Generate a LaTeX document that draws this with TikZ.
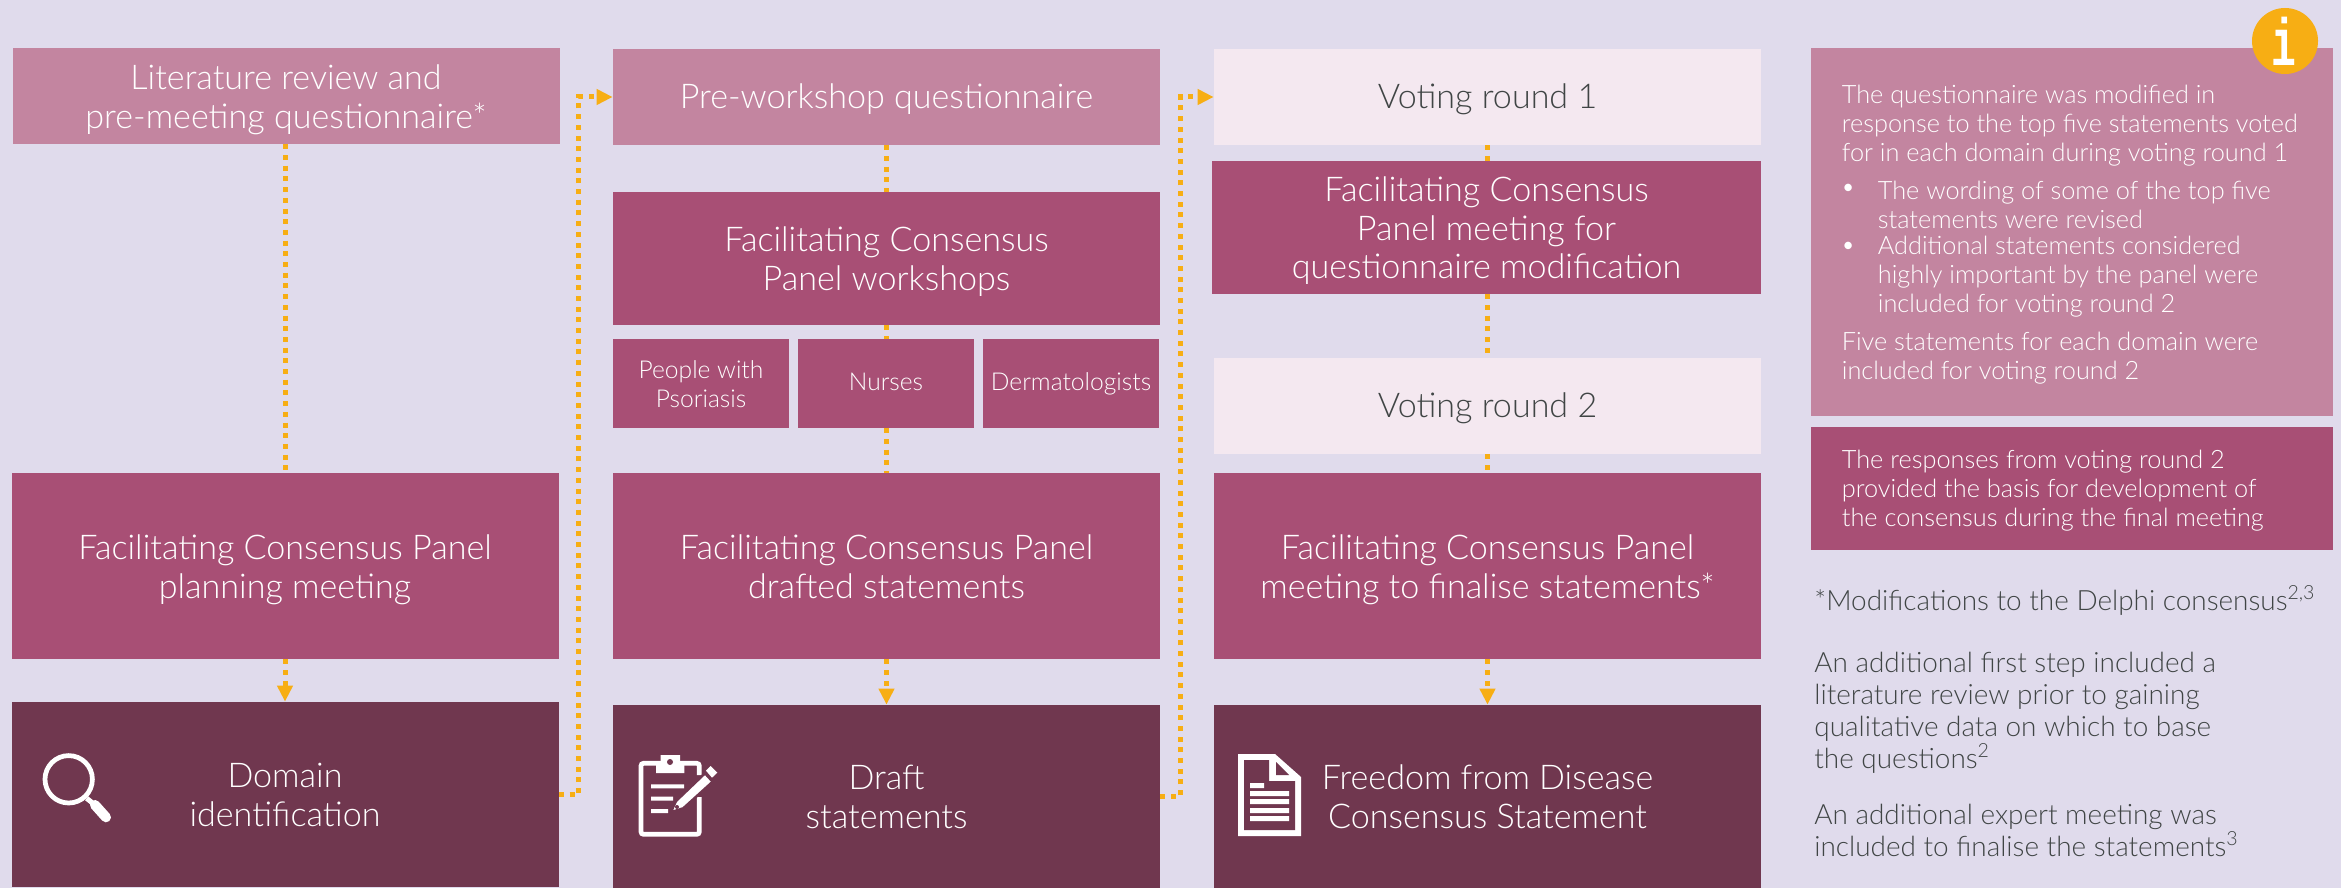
\documentclass[tikz,border=0pt]{standalone}
\usepackage{fontspec}
\setmainfont{Lato}[UprightFont=* Light]
\newfontfamily\infofont{Liberation Mono}[Scale=1]
\usetikzlibrary{arrows.meta}
\definecolor{backlilac}{HTML}{E0DBEC}
\definecolor{lightrose}{HTML}{C385A0}
\definecolor{midrose}{HTML}{A84F75}
\definecolor{darkplum}{HTML}{70374F}
\definecolor{palerose}{HTML}{F4E8F0}
\definecolor{linkorange}{HTML}{F7AE14}
\definecolor{greytext}{HTML}{404545}
\newcommand{\toppad}{\rule{0pt}{1em}}
\tikzset{
	boxsize/.style 2 args={minimum width=#1*0.02cm, minimum height=#2*0.02cm},
	flowbox/.style={rectangle, inner sep=0pt, align=center, text=white, font=\fontsize{19.4}{22}\selectfont,
		execute at end node={\rule[-0.25em]{0pt}{0.25em}}},
	oneline/.style={execute at begin node={\rule{0pt}{0.95em}}, execute at end node={}},
	smallone/.style={oneline, execute at end node={\rule[-0.4em]{0pt}{0.4em}}},
	lightbox/.style={flowbox, fill=lightrose},
	midbox/.style={flowbox, fill=midrose},
	darkbox/.style={flowbox, fill=darkplum},
	palebox/.style={flowbox, fill=palerose, text=greytext},
	smallbox/.style={midbox, font=\fontsize{14}{16.5}\selectfont},
	notetext/.style={inner sep=0pt, anchor=west, align=left, text=white, font=\fontsize{14.4}{16.5}\selectfont},
	sidetext/.style={inner sep=0pt, anchor=west, align=left, text=greytext, font=\fontsize{15.9}{18.2}\selectfont},
	link/.style={draw=linkorange, line width=0.1cm, dash pattern=on 0.1cm off 0.114cm},
}
\begin{document}
\begin{tikzpicture}[x=0.02cm, y=-0.02cm, >={Triangle[length=0.32cm, width=0.3cm]}]
	\useasboundingbox (0,0) rectangle (2341,888);
	\fill[backlilac] (0,0) rectangle (2341,888);
	%left column
	\node[lightbox, boxsize={547}{96}] (lit) at (286,96) {\toppad Literature review and\\pre-meeting questionnaire*};
	\node[midbox, boxsize={547}{186}] (plan) at (285,566) {\toppad Facilitating Consensus Panel\\planning meeting};
	\node[darkbox, boxsize={547}{185}] (domain) at (285,794.5) {\toppad Domain\\identification};
	%middle column
	\node[lightbox, oneline, boxsize={547}{96}] (pre) at (886.5,97) {Pre-workshop questionnaire};
	\node[midbox, boxsize={547}{133}] (workshops) at (886.5,258.5) {\toppad Facilitating Consensus\\Panel workshops};
	\node[smallbox, boxsize={176}{89}] (people) at (701,383.5) {\toppad People with\\Psoriasis};
	\node[smallbox, smallone, boxsize={176}{89}] (nurses) at (886,383.5) {Nurses};
	\node[smallbox, smallone, boxsize={176}{89}] (derm) at (1071,383.5) {Dermatologists};
	\node[midbox, boxsize={547}{186}] (drafted) at (886.5,566) {\toppad Facilitating Consensus Panel\\drafted statements};
	\node[darkbox, boxsize={547}{183}] (draft) at (886.5,796.5) {\toppad Draft\\statements};
	%right column
	\node[palebox, oneline, boxsize={547}{96}] (voteone) at (1487.5,97) {Voting round 1};
	\node[midbox, boxsize={549}{133}] (modify) at (1486.5,227.5) {\toppad Facilitating Consensus\\Panel meeting for\\questionnaire modification};
	\node[palebox, oneline, boxsize={547}{96}] (votetwo) at (1487.5,406) {Voting round 2};
	\node[midbox, boxsize={547}{186}] (final) at (1487.5,566) {\toppad Facilitating Consensus Panel\\meeting to finalise statements*};
	\node[darkbox, boxsize={547}{183}] (freedom) at (1487.5,796.5) {\toppad Freedom from Disease\\Consensus Statement};
	%connectors
	\draw[link] (plan.north |- lit.south) -- (plan.north);
	\draw[link,->] (plan.south) -- (domain.north);
	\draw[link] (pre.south) -- (workshops.north);
	\draw[link] (workshops.south) -- (workshops.south |- nurses.north);
	\draw[link] (workshops.south |- nurses.south) -- (drafted.north);
	\draw[link,->] (drafted.south) -- (draft.north);
	\draw[link] (voteone.south) -- (voteone.south |- modify.north);
	\draw[link] (voteone.south |- modify.south) -- (votetwo.north);
	\draw[link] (votetwo.south) -- (final.north);
	\draw[link,->] (final.south) -- (freedom.north);
	\draw[link,->] (domain.east) -- ++(20,0) |- (pre.west);
	\draw[link,->] (draft.east) -- ++(20,0) |- (voteone.west);
	%side panel
	\node[midbox, boxsize={522}{368}, fill=lightrose] (notea) at (2072,232) {};
	\node[midbox, boxsize={522}{123}] (noteb) at (2072,488.5) {};
	\node[notetext] (notetop) at (1841.5,126) {The questionnaire was modified in\\response to the top five statements voted\\for in each domain during voting round 1};
	\node[notetext] (bulleta) at (1840.5,190) {•};
	\node[notetext] (itema) at (1877.5,204.5) {The wording of some of the top five\\statements were revised};
	\node[notetext] (bulletb) at (1840.5,248) {•};
	\node[notetext] (itemb) at (1877.5,277) {Additional statements considered\\highly important by the panel were\\included for voting round 2};
	\node[notetext] (noteend) at (1841.5,358) {Five statements for each domain were\\included for voting round 2};
	\node[notetext] (noteresp) at (1841.5,491) {The responses from voting round 2\\provided the basis for development of\\the consensus during the final meeting};
	\node[sidetext] (modhead) at (1814,600) {*Modifications to the Delphi consensus\textsuperscript{2,3}};
	\node[sidetext] (stepnote) at (1814,713) {An additional first step included a\\literature review prior to gaining\\qualitative data on which to base\\the questions\textsuperscript{2}};
	\node[sidetext] (expertnote) at (1814,830) {An additional expert meeting was\\included to finalise the statements\textsuperscript{3}};
	\fill[linkorange] (2285,41) circle (33);
	\node[text=white, inner sep=0pt, xscale=0.62, font=\infofont\bfseries\fontsize{38}{38}\selectfont] (info) at (2284,41) {i};
	%magnifier
	\draw[white, line width=0.095cm] (68.7,779.3) circle (23.7);
	\draw[white, line width=0.1cm] (86.7,798.3) -- (95,805);
	\draw[white, line width=0.2cm, line cap=round] (95,805) -- (106,817.3);
	%clipboard
	\draw[white, line width=0.094cm, rounded corners=0.05cm] (699.3,797) -- (699.3,834.3) -- (641,834.3) -- (641,763.3) -- (699.3,763.3) -- (699.3,775);
	\fill[white] (656,761) rectangle (684.3,773) (660.7,755) rectangle (680,762);
	\fill[darkplum] (670,762) circle (3);
	\fill[white] (651,784.3) rectangle (684,788.3) (651,796.7) rectangle (673,800.7) (651,809) rectangle (668,813);
	\filldraw[fill=white, draw=darkplum, line width=0.05cm] (670.7,812.3) -- (676,801) -- (705,773.3) -- (712.7,781.7) -- (683.3,808.3) -- cycle;
	\fill[darkplum] (677,807) circle (2);
	\fill[white] (706,770.7) -- (710.7,766) -- (717.3,772.7) -- (712,777.7) -- cycle;
	%document
	\fill[white] (1238,754) -- (1275,754) -- (1301,777) -- (1301,836) -- (1238,836) -- cycle;
	\fill[darkplum] (1244,760) -- (1269,760) -- (1269,781) -- (1295,781) -- (1295,830) -- (1244,830) -- cycle;
	\fill[darkplum] (1276,762) -- (1276,775) -- (1289,775) -- cycle;
	\fill[white] (1250,783) rectangle (1264,788) (1250,791) rectangle (1289,796) (1250,799) rectangle (1289,804) (1250,808) rectangle (1289,813) (1250,816) rectangle (1289,821);
\end{tikzpicture}
\end{document}
